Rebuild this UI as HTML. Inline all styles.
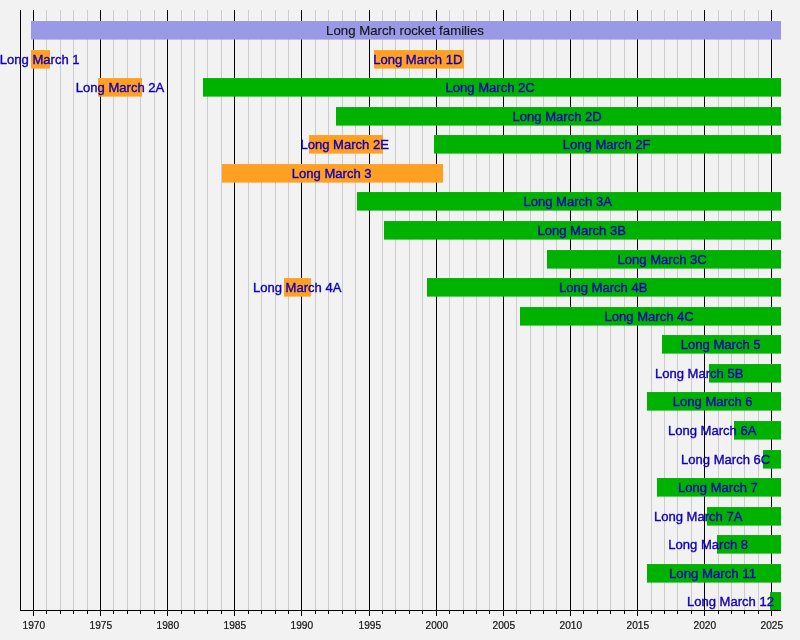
<!DOCTYPE html>
<html><head><meta charset="utf-8"><title>Long March rocket families</title>
<style>html,body{margin:0;padding:0;background:#F2F2F2;}svg{display:block}text{font-family:"Liberation Sans",Arial,Helvetica,sans-serif;}</style></head><body>
<svg width="800" height="640" viewBox="0 0 800 640">
<rect x="0" y="0" width="800" height="640" fill="#F2F2F2"/>
<g stroke="#CCCCCC" stroke-width="1" shape-rendering="crispEdges">
<line x1="46.50" y1="10" x2="46.50" y2="610"/>
<line x1="60.50" y1="10" x2="60.50" y2="610"/>
<line x1="73.50" y1="10" x2="73.50" y2="610"/>
<line x1="87.50" y1="10" x2="87.50" y2="610"/>
<line x1="113.50" y1="10" x2="113.50" y2="610"/>
<line x1="127.50" y1="10" x2="127.50" y2="610"/>
<line x1="140.50" y1="10" x2="140.50" y2="610"/>
<line x1="154.50" y1="10" x2="154.50" y2="610"/>
<line x1="181.50" y1="10" x2="181.50" y2="610"/>
<line x1="194.50" y1="10" x2="194.50" y2="610"/>
<line x1="207.50" y1="10" x2="207.50" y2="610"/>
<line x1="221.50" y1="10" x2="221.50" y2="610"/>
<line x1="248.50" y1="10" x2="248.50" y2="610"/>
<line x1="261.50" y1="10" x2="261.50" y2="610"/>
<line x1="275.50" y1="10" x2="275.50" y2="610"/>
<line x1="288.50" y1="10" x2="288.50" y2="610"/>
<line x1="315.50" y1="10" x2="315.50" y2="610"/>
<line x1="328.50" y1="10" x2="328.50" y2="610"/>
<line x1="342.50" y1="10" x2="342.50" y2="610"/>
<line x1="355.50" y1="10" x2="355.50" y2="610"/>
<line x1="382.50" y1="10" x2="382.50" y2="610"/>
<line x1="395.50" y1="10" x2="395.50" y2="610"/>
<line x1="409.50" y1="10" x2="409.50" y2="610"/>
<line x1="422.50" y1="10" x2="422.50" y2="610"/>
<line x1="449.50" y1="10" x2="449.50" y2="610"/>
<line x1="463.50" y1="10" x2="463.50" y2="610"/>
<line x1="476.50" y1="10" x2="476.50" y2="610"/>
<line x1="489.50" y1="10" x2="489.50" y2="610"/>
<line x1="516.50" y1="10" x2="516.50" y2="610"/>
<line x1="530.50" y1="10" x2="530.50" y2="610"/>
<line x1="543.50" y1="10" x2="543.50" y2="610"/>
<line x1="556.50" y1="10" x2="556.50" y2="610"/>
<line x1="583.50" y1="10" x2="583.50" y2="610"/>
<line x1="597.50" y1="10" x2="597.50" y2="610"/>
<line x1="610.50" y1="10" x2="610.50" y2="610"/>
<line x1="624.50" y1="10" x2="624.50" y2="610"/>
<line x1="651.50" y1="10" x2="651.50" y2="610"/>
<line x1="664.50" y1="10" x2="664.50" y2="610"/>
<line x1="677.50" y1="10" x2="677.50" y2="610"/>
<line x1="691.50" y1="10" x2="691.50" y2="610"/>
<line x1="718.50" y1="10" x2="718.50" y2="610"/>
<line x1="731.50" y1="10" x2="731.50" y2="610"/>
<line x1="744.50" y1="10" x2="744.50" y2="610"/>
<line x1="758.50" y1="10" x2="758.50" y2="610"/>
</g>
<g stroke="#000" stroke-width="1" shape-rendering="crispEdges">
<line x1="33.50" y1="10" x2="33.50" y2="616"/>
<line x1="100.50" y1="10" x2="100.50" y2="616"/>
<line x1="167.50" y1="10" x2="167.50" y2="616"/>
<line x1="234.50" y1="10" x2="234.50" y2="616"/>
<line x1="301.50" y1="10" x2="301.50" y2="616"/>
<line x1="369.50" y1="10" x2="369.50" y2="616"/>
<line x1="436.50" y1="10" x2="436.50" y2="616"/>
<line x1="503.50" y1="10" x2="503.50" y2="616"/>
<line x1="570.50" y1="10" x2="570.50" y2="616"/>
<line x1="637.50" y1="10" x2="637.50" y2="616"/>
<line x1="704.50" y1="10" x2="704.50" y2="616"/>
<line x1="771.50" y1="10" x2="771.50" y2="616"/>
<line x1="46.50" y1="610" x2="46.50" y2="614"/>
<line x1="60.50" y1="610" x2="60.50" y2="614"/>
<line x1="73.50" y1="610" x2="73.50" y2="614"/>
<line x1="87.50" y1="610" x2="87.50" y2="614"/>
<line x1="113.50" y1="610" x2="113.50" y2="614"/>
<line x1="127.50" y1="610" x2="127.50" y2="614"/>
<line x1="140.50" y1="610" x2="140.50" y2="614"/>
<line x1="154.50" y1="610" x2="154.50" y2="614"/>
<line x1="181.50" y1="610" x2="181.50" y2="614"/>
<line x1="194.50" y1="610" x2="194.50" y2="614"/>
<line x1="207.50" y1="610" x2="207.50" y2="614"/>
<line x1="221.50" y1="610" x2="221.50" y2="614"/>
<line x1="248.50" y1="610" x2="248.50" y2="614"/>
<line x1="261.50" y1="610" x2="261.50" y2="614"/>
<line x1="275.50" y1="610" x2="275.50" y2="614"/>
<line x1="288.50" y1="610" x2="288.50" y2="614"/>
<line x1="315.50" y1="610" x2="315.50" y2="614"/>
<line x1="328.50" y1="610" x2="328.50" y2="614"/>
<line x1="342.50" y1="610" x2="342.50" y2="614"/>
<line x1="355.50" y1="610" x2="355.50" y2="614"/>
<line x1="382.50" y1="610" x2="382.50" y2="614"/>
<line x1="395.50" y1="610" x2="395.50" y2="614"/>
<line x1="409.50" y1="610" x2="409.50" y2="614"/>
<line x1="422.50" y1="610" x2="422.50" y2="614"/>
<line x1="449.50" y1="610" x2="449.50" y2="614"/>
<line x1="463.50" y1="610" x2="463.50" y2="614"/>
<line x1="476.50" y1="610" x2="476.50" y2="614"/>
<line x1="489.50" y1="610" x2="489.50" y2="614"/>
<line x1="516.50" y1="610" x2="516.50" y2="614"/>
<line x1="530.50" y1="610" x2="530.50" y2="614"/>
<line x1="543.50" y1="610" x2="543.50" y2="614"/>
<line x1="556.50" y1="610" x2="556.50" y2="614"/>
<line x1="583.50" y1="610" x2="583.50" y2="614"/>
<line x1="597.50" y1="610" x2="597.50" y2="614"/>
<line x1="610.50" y1="610" x2="610.50" y2="614"/>
<line x1="624.50" y1="610" x2="624.50" y2="614"/>
<line x1="651.50" y1="610" x2="651.50" y2="614"/>
<line x1="664.50" y1="610" x2="664.50" y2="614"/>
<line x1="677.50" y1="610" x2="677.50" y2="614"/>
<line x1="691.50" y1="610" x2="691.50" y2="614"/>
<line x1="718.50" y1="610" x2="718.50" y2="614"/>
<line x1="731.50" y1="610" x2="731.50" y2="614"/>
<line x1="744.50" y1="610" x2="744.50" y2="614"/>
<line x1="758.50" y1="610" x2="758.50" y2="614"/>
</g>
<rect x="31.00" y="21.05" width="750.00" height="18.55" fill="#9999E5"/>
<rect x="31.00" y="50.05" width="19.00" height="18.55" fill="#FFA022"/>
<rect x="374.00" y="50.05" width="90.00" height="18.55" fill="#FFA022"/>
<rect x="98.00" y="78.05" width="44.00" height="18.55" fill="#FFA022"/>
<rect x="203.00" y="78.05" width="578.00" height="18.55" fill="#00B200"/>
<rect x="336.00" y="107.05" width="445.00" height="18.55" fill="#00B200"/>
<rect x="309.00" y="135.05" width="74.00" height="18.55" fill="#FFA022"/>
<rect x="434.00" y="135.05" width="347.00" height="18.55" fill="#00B200"/>
<rect x="222.00" y="164.05" width="221.00" height="18.55" fill="#FFA022"/>
<rect x="357.00" y="192.05" width="424.00" height="18.55" fill="#00B200"/>
<rect x="384.00" y="221.05" width="397.00" height="18.55" fill="#00B200"/>
<rect x="547.00" y="250.05" width="234.00" height="18.55" fill="#00B200"/>
<rect x="284.00" y="278.05" width="27.00" height="18.55" fill="#FFA022"/>
<rect x="427.00" y="278.05" width="354.00" height="18.55" fill="#00B200"/>
<rect x="520.00" y="307.05" width="261.00" height="18.55" fill="#00B200"/>
<rect x="662.00" y="335.05" width="119.00" height="18.55" fill="#00B200"/>
<rect x="709.00" y="364.05" width="72.00" height="18.55" fill="#00B200"/>
<rect x="647.00" y="392.05" width="134.00" height="18.55" fill="#00B200"/>
<rect x="734.00" y="421.05" width="47.00" height="18.55" fill="#00B200"/>
<rect x="763.00" y="450.05" width="18.00" height="18.55" fill="#00B200"/>
<rect x="657.00" y="478.05" width="124.00" height="18.55" fill="#00B200"/>
<rect x="707.00" y="507.05" width="74.00" height="18.55" fill="#00B200"/>
<rect x="717.00" y="535.05" width="64.00" height="18.55" fill="#00B200"/>
<rect x="647.00" y="564.05" width="134.00" height="18.55" fill="#00B200"/>
<rect x="770.00" y="592.05" width="11.00" height="18.55" fill="#00B200"/>
<g stroke="#000" stroke-width="1" shape-rendering="crispEdges"><line x1="20.5" y1="10" x2="20.5" y2="611"/><line x1="20" y1="610.5" x2="781" y2="610.5"/></g>
<text x="405.00" y="35.00" font-size="13.4" textLength="157.8" lengthAdjust="spacingAndGlyphs" text-anchor="middle" fill="#14141c" stroke="#14141c" stroke-width="0.15">Long March rocket families</text>
<text x="39.70" y="64.00" font-size="13.3" textLength="79.79" lengthAdjust="spacingAndGlyphs" text-anchor="middle" fill="#1000B8" stroke="#1000B8" stroke-width="0.38">Long March 1</text>
<text x="417.80" y="64.00" font-size="13.3" textLength="89.21" lengthAdjust="spacingAndGlyphs" text-anchor="middle" fill="#1000B8" stroke="#1000B8" stroke-width="0.38">Long March 1D</text>
<text x="120.10" y="92.00" font-size="13.3" textLength="88.49" lengthAdjust="spacingAndGlyphs" text-anchor="middle" fill="#1000B8" stroke="#1000B8" stroke-width="0.38">Long March 2A</text>
<text x="490.20" y="92.00" font-size="13.3" textLength="89.21" lengthAdjust="spacingAndGlyphs" text-anchor="middle" fill="#1000B8" stroke="#1000B8" stroke-width="0.38">Long March 2C</text>
<text x="557.20" y="121.00" font-size="13.3" textLength="89.21" lengthAdjust="spacingAndGlyphs" text-anchor="middle" fill="#1000B8" stroke="#1000B8" stroke-width="0.38">Long March 2D</text>
<text x="344.70" y="149.00" font-size="13.3" textLength="88.49" lengthAdjust="spacingAndGlyphs" text-anchor="middle" fill="#1000B8" stroke="#1000B8" stroke-width="0.38">Long March 2E</text>
<text x="606.70" y="149.00" font-size="13.3" textLength="87.76" lengthAdjust="spacingAndGlyphs" text-anchor="middle" fill="#1000B8" stroke="#1000B8" stroke-width="0.38">Long March 2F</text>
<text x="331.70" y="178.00" font-size="13.3" textLength="79.79" lengthAdjust="spacingAndGlyphs" text-anchor="middle" fill="#1000B8" stroke="#1000B8" stroke-width="0.38">Long March 3</text>
<text x="567.70" y="206.00" font-size="13.3" textLength="88.49" lengthAdjust="spacingAndGlyphs" text-anchor="middle" fill="#1000B8" stroke="#1000B8" stroke-width="0.38">Long March 3A</text>
<text x="581.70" y="235.00" font-size="13.3" textLength="88.49" lengthAdjust="spacingAndGlyphs" text-anchor="middle" fill="#1000B8" stroke="#1000B8" stroke-width="0.38">Long March 3B</text>
<text x="662.20" y="264.00" font-size="13.3" textLength="89.21" lengthAdjust="spacingAndGlyphs" text-anchor="middle" fill="#1000B8" stroke="#1000B8" stroke-width="0.38">Long March 3C</text>
<text x="297.20" y="292.00" font-size="13.3" textLength="88.49" lengthAdjust="spacingAndGlyphs" text-anchor="middle" fill="#1000B8" stroke="#1000B8" stroke-width="0.38">Long March 4A</text>
<text x="603.20" y="292.00" font-size="13.3" textLength="88.49" lengthAdjust="spacingAndGlyphs" text-anchor="middle" fill="#1000B8" stroke="#1000B8" stroke-width="0.38">Long March 4B</text>
<text x="649.20" y="321.00" font-size="13.3" textLength="89.21" lengthAdjust="spacingAndGlyphs" text-anchor="middle" fill="#1000B8" stroke="#1000B8" stroke-width="0.38">Long March 4C</text>
<text x="720.70" y="349.00" font-size="13.3" textLength="79.79" lengthAdjust="spacingAndGlyphs" text-anchor="middle" fill="#1000B8" stroke="#1000B8" stroke-width="0.38">Long March 5</text>
<text x="699.20" y="378.00" font-size="13.3" textLength="88.49" lengthAdjust="spacingAndGlyphs" text-anchor="middle" fill="#1000B8" stroke="#1000B8" stroke-width="0.38">Long March 5B</text>
<text x="712.70" y="406.00" font-size="13.3" textLength="79.79" lengthAdjust="spacingAndGlyphs" text-anchor="middle" fill="#1000B8" stroke="#1000B8" stroke-width="0.38">Long March 6</text>
<text x="712.20" y="435.00" font-size="13.3" textLength="88.49" lengthAdjust="spacingAndGlyphs" text-anchor="middle" fill="#1000B8" stroke="#1000B8" stroke-width="0.38">Long March 6A</text>
<text x="725.70" y="464.00" font-size="13.3" textLength="89.21" lengthAdjust="spacingAndGlyphs" text-anchor="middle" fill="#1000B8" stroke="#1000B8" stroke-width="0.38">Long March 6C</text>
<text x="717.95" y="492.00" font-size="13.3" textLength="79.79" lengthAdjust="spacingAndGlyphs" text-anchor="middle" fill="#1000B8" stroke="#1000B8" stroke-width="0.38">Long March 7</text>
<text x="698.20" y="521.00" font-size="13.3" textLength="88.49" lengthAdjust="spacingAndGlyphs" text-anchor="middle" fill="#1000B8" stroke="#1000B8" stroke-width="0.38">Long March 7A</text>
<text x="708.20" y="549.00" font-size="13.3" textLength="79.79" lengthAdjust="spacingAndGlyphs" text-anchor="middle" fill="#1000B8" stroke="#1000B8" stroke-width="0.38">Long March 8</text>
<text x="712.50" y="578.00" font-size="13.3" textLength="87.04" lengthAdjust="spacingAndGlyphs" text-anchor="middle" fill="#1000B8" stroke="#1000B8" stroke-width="0.38">Long March 11</text>
<text x="730.45" y="606.00" font-size="13.3" textLength="87.04" lengthAdjust="spacingAndGlyphs" text-anchor="middle" fill="#1000B8" stroke="#1000B8" stroke-width="0.38">Long March 12</text>
<text x="33.80" y="628.8" font-size="10.6" text-anchor="middle" fill="#141414" stroke="#141414" stroke-width="0.22" textLength="22.6" lengthAdjust="spacingAndGlyphs">1970</text>
<text x="100.80" y="628.8" font-size="10.6" text-anchor="middle" fill="#141414" stroke="#141414" stroke-width="0.22" textLength="22.6" lengthAdjust="spacingAndGlyphs">1975</text>
<text x="167.80" y="628.8" font-size="10.6" text-anchor="middle" fill="#141414" stroke="#141414" stroke-width="0.22" textLength="22.6" lengthAdjust="spacingAndGlyphs">1980</text>
<text x="234.80" y="628.8" font-size="10.6" text-anchor="middle" fill="#141414" stroke="#141414" stroke-width="0.22" textLength="22.6" lengthAdjust="spacingAndGlyphs">1985</text>
<text x="301.80" y="628.8" font-size="10.6" text-anchor="middle" fill="#141414" stroke="#141414" stroke-width="0.22" textLength="22.6" lengthAdjust="spacingAndGlyphs">1990</text>
<text x="369.80" y="628.8" font-size="10.6" text-anchor="middle" fill="#141414" stroke="#141414" stroke-width="0.22" textLength="22.6" lengthAdjust="spacingAndGlyphs">1995</text>
<text x="436.80" y="628.8" font-size="10.6" text-anchor="middle" fill="#141414" stroke="#141414" stroke-width="0.22" textLength="22.6" lengthAdjust="spacingAndGlyphs">2000</text>
<text x="503.80" y="628.8" font-size="10.6" text-anchor="middle" fill="#141414" stroke="#141414" stroke-width="0.22" textLength="22.6" lengthAdjust="spacingAndGlyphs">2005</text>
<text x="570.80" y="628.8" font-size="10.6" text-anchor="middle" fill="#141414" stroke="#141414" stroke-width="0.22" textLength="22.6" lengthAdjust="spacingAndGlyphs">2010</text>
<text x="637.80" y="628.8" font-size="10.6" text-anchor="middle" fill="#141414" stroke="#141414" stroke-width="0.22" textLength="22.6" lengthAdjust="spacingAndGlyphs">2015</text>
<text x="704.80" y="628.8" font-size="10.6" text-anchor="middle" fill="#141414" stroke="#141414" stroke-width="0.22" textLength="22.6" lengthAdjust="spacingAndGlyphs">2020</text>
<text x="771.80" y="628.8" font-size="10.6" text-anchor="middle" fill="#141414" stroke="#141414" stroke-width="0.22" textLength="22.6" lengthAdjust="spacingAndGlyphs">2025</text>
</svg></body></html>
